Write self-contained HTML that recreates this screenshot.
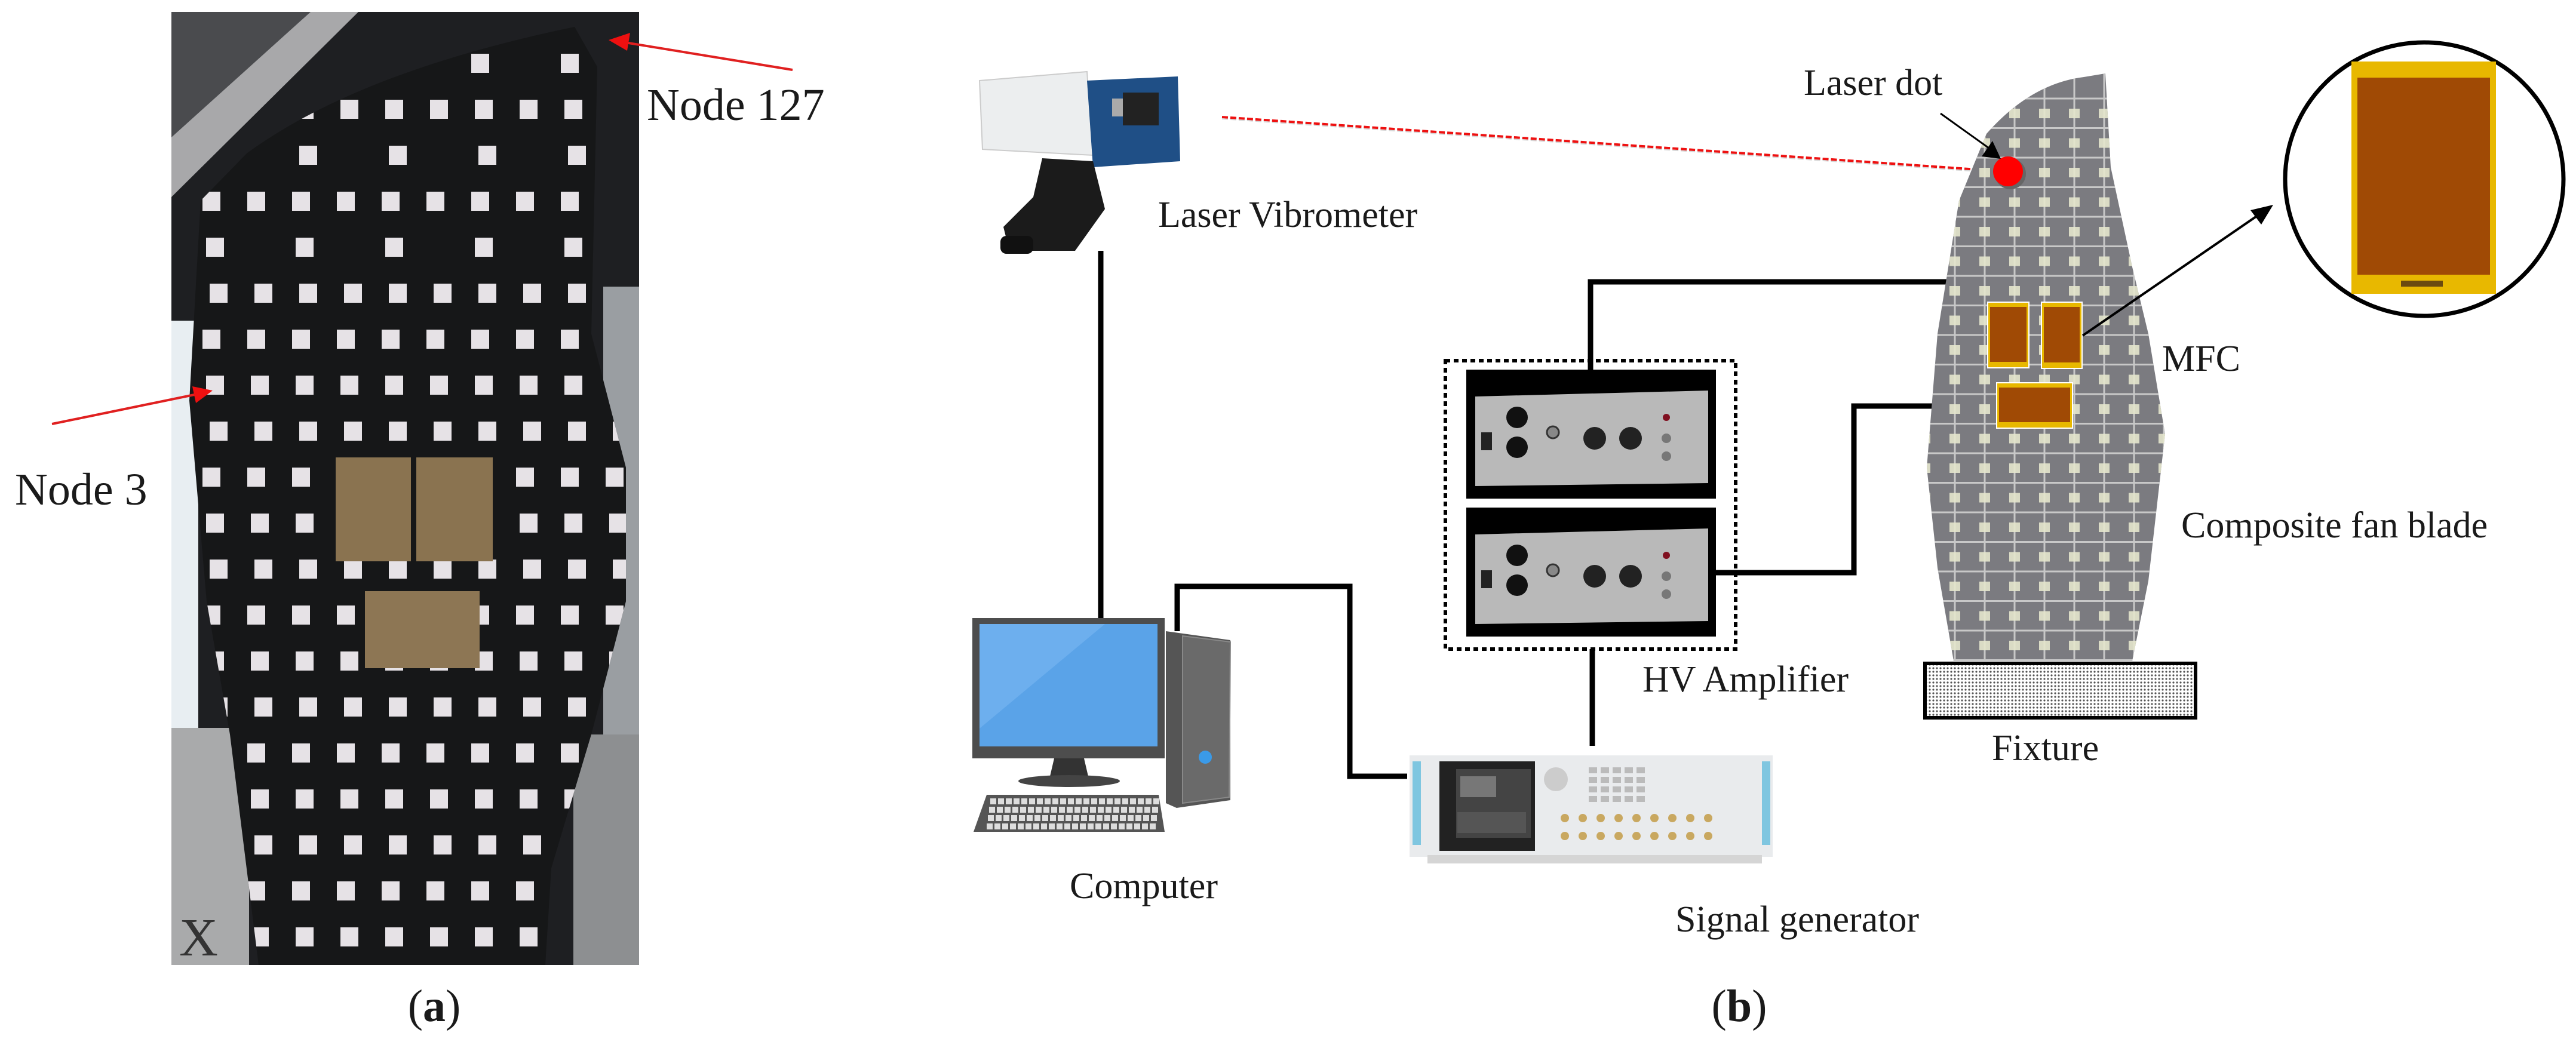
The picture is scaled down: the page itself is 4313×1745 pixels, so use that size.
<!DOCTYPE html>
<html><head><meta charset="utf-8"><style>
html,body{margin:0;padding:0;background:#fff}
svg{display:block}
text{font-family:"Liberation Serif",serif;fill:#1a1a1a}
</style></head><body>
<svg id="s" width="4313" height="1745" viewBox="0 0 4313 1745" xmlns="http://www.w3.org/2000/svg">
<defs>
<clipPath id="bladeA"><path d="M413,257 Q600,120 962,45 L1000,112 L990,559 L1048,783 L1048,1007 L990,1230 L923,1454 L913,1616 L433,1616 L385,1230 L346,1007 L317,671 L336,336 Z"/></clipPath>
<clipPath id="bladeB"><path d="M3326,224 Q3400,140 3489,129 L3525,123 L3534,280 L3570,447 L3597,559 L3625,727 L3597,973 L3570,1107 L3271,1107 L3244,951 L3226,783 L3244,559 L3280,336 Z"/></clipPath>
<pattern id="dots" width="6" height="6" patternUnits="userSpaceOnUse"><rect width="6" height="6" fill="#fff"/><circle cx="3" cy="3" r="1.6" fill="#555"/></pattern>
</defs>

<!-- Panel (a) photo -->
<rect x="287" y="20" width="783" height="1596" fill="#1e1f22"/>
<path d="M287,20 L560,20 L287,300 Z" fill="#4a4b4e"/>
<path d="M287,230 L520,20 L600,20 L287,330 Z" fill="#a8a8aa"/>
<rect x="287" y="537" width="45" height="682" fill="#e8eef2"/>
<rect x="287" y="1219" width="130" height="397" fill="#a9aaab"/>
<rect x="960" y="1230" width="110" height="386" fill="#8d8f91"/>
<rect x="1010" y="480" width="60" height="750" fill="#9a9ea2"/>
<path d="M413,257 Q600,120 962,45 L1000,112 L990,559 L1048,783 L1048,1007 L990,1230 L923,1454 L913,1616 L433,1616 L385,1230 L346,1007 L317,671 L336,336 Z" fill="#161718"/>
<g id="sqA" clip-path="url(#bladeA)"></g>
<rect x="562" y="766" width="126" height="174" fill="#8a7350"/>
<rect x="697" y="766" width="128" height="174" fill="#8a7350"/>
<rect x="611" y="990" width="192" height="129" fill="#8d7654"/>
<text x="300" y="1600" font-size="90" font-family="Liberation Sans" style="fill:#333">X</text>
<line x1="1327" y1="117" x2="1040" y2="70" stroke="#e02020" stroke-width="4"/>
<path d="M1019,67 L1055,55 L1050,85 Z" fill="#ee1010"/>
<line x1="87" y1="710" x2="335" y2="659" stroke="#e02020" stroke-width="4"/>
<path d="M356,654 L322,647 L328,675 Z" fill="#ee1010"/>
<text x="1083" y="201" font-size="76">Node 127</text>
<text x="25" y="845" font-size="76">Node 3</text>
<text x="727" y="1710" font-size="76" text-anchor="middle">(<tspan font-weight="bold">a</tspan>)</text>

<!-- Camera -->
<g>
<path d="M1640,135 L1820,120 L1830,260 L1645,250 Z" fill="#eceeef" stroke="#ccc" stroke-width="2"/>
<path d="M1820,135 L1972,128 L1976,270 L1830,280 Z" fill="#1f4f86"/>
<rect x="1880" y="155" width="60" height="55" fill="#222"/>
<rect x="1862" y="165" width="18" height="30" fill="#aaa"/>
<path d="M1745,265 L1830,270 L1850,350 L1800,420 L1690,420 L1680,380 L1730,330 Z" fill="#1b1b1b"/>
<rect x="1675" y="395" width="55" height="30" rx="10" fill="#111"/>
</g>
<text x="1939" y="380" font-size="62">Laser Vibrometer</text>
<line x1="2046" y1="196" x2="3340" y2="286" stroke="#ee1111" stroke-width="4" stroke-dasharray="10,4"/>
<line x1="2046" y1="199" x2="3340" y2="289" stroke="#bbb" stroke-width="2" stroke-dasharray="10,4" opacity=".6"/>

<!-- connectors -->
<g fill="none" stroke="#000" stroke-width="9">
<polyline points="1843,420 1843,1035"/>
<polyline points="1971,1057 1971,982 2260,982 2260,1300 2356,1300"/>
<polyline points="2663,619 2663,472 3454,472 3454,509"/>
<polyline points="2873,959 3104,959 3104,680 3344,680"/>
<polyline points="2666,1087 2666,1249"/>
</g>

<!-- Computer -->
<rect x="1628" y="1035" width="322" height="235" fill="#4d4d4d"/>
<rect x="1640" y="1045" width="298" height="205" fill="#5aa3e8"/>
<path d="M1640,1045 L1850,1045 L1640,1220 Z" fill="#7ab8f2" opacity=".6"/>
<path d="M1765,1270 L1815,1270 L1822,1300 L1758,1300 Z" fill="#333"/>
<ellipse cx="1790" cy="1308" rx="85" ry="10" fill="#444"/>
<path d="M1652,1331 L1940,1331 L1950,1393 L1630,1393 Z" fill="#555"/>
<g id="keys"></g>
<path d="M1952,1057 L2060,1072 L2060,1340 L1970,1353 L1952,1345 Z" fill="#555"/>
<path d="M1980,1065 L2060,1075 L2058,1335 L1980,1345 Z" fill="#6a6a6a" stroke="#888" stroke-width="2"/>
<circle cx="2018" cy="1268" r="11" fill="#3a9ae8"/>
<text x="1791" y="1504" font-size="62">Computer</text>

<!-- Amplifiers -->
<rect x="2420" y="604" width="486" height="483" fill="none" stroke="#000" stroke-width="6" stroke-dasharray="8,6"/>
<g id="amps"></g>
<text x="2750" y="1158" font-size="62">HV Amplifier</text>

<!-- Signal generator -->
<rect x="2360" y="1265" width="608" height="170" fill="#e9ebed"/>
<rect x="2365" y="1275" width="14" height="140" fill="#7fc6e0"/>
<rect x="2950" y="1275" width="14" height="140" fill="#7fc6e0"/>
<rect x="2410" y="1275" width="160" height="150" fill="#222"/>
<rect x="2438" y="1288" width="125" height="115" fill="#444"/>
<rect x="2445" y="1300" width="60" height="35" fill="#777"/>
<rect x="2440" y="1360" width="115" height="35" fill="#555"/>
<rect x="2390" y="1432" width="560" height="14" fill="#d5d5d5"/>
<g id="sgk"></g>
<text x="2805" y="1560" font-size="62">Signal generator</text>

<!-- Blade (b) -->
<path d="M3326,224 Q3400,140 3489,129 L3525,123 L3534,280 L3570,447 L3597,559 L3625,727 L3597,973 L3570,1107 L3271,1107 L3244,951 L3226,783 L3244,559 L3280,336 Z" fill="#7b7b80"/>
<g id="gridB" clip-path="url(#bladeB)"></g>
<rect x="3223" y="1111" width="453" height="91" fill="url(#dots)" stroke="#000" stroke-width="6"/>
<text x="3335" y="1273" font-size="62">Fixture</text>
<circle cx="3366" cy="291" r="26" fill="#666"/>
<circle cx="3362" cy="287" r="25" fill="#ff0000"/>
<line x1="3249" y1="190" x2="3330" y2="248" stroke="#000" stroke-width="3"/>
<path d="M3350,266 L3318,262 L3336,236 Z" fill="#000"/>
<text x="3020" y="159" font-size="62">Laser dot</text>
<g id="mfc"></g>
<line x1="3487" y1="562" x2="3790" y2="354" stroke="#000" stroke-width="4"/>
<path d="M3806,343 L3768,352 L3786,376 Z" fill="#000"/>
<text x="3620" y="621" font-size="62">MFC</text>
<text x="3652" y="900" font-size="62">Composite fan blade</text>
<ellipse cx="4059" cy="300" rx="233" ry="229" fill="#fff" stroke="#000" stroke-width="7"/>
<rect x="3937" y="103" width="242" height="389" fill="#e8b800"/>
<rect x="3947" y="130" width="222" height="330" fill="#a04a05"/>
<rect x="4020" y="470" width="70" height="10" fill="#6a4a10"/>
<text x="2912" y="1710" font-size="76" text-anchor="middle">(<tspan font-weight="bold">b</tspan>)</text>
</svg>
<script>
var NS="http://www.w3.org/2000/svg";
function el(p,t,a){var e=document.createElementNS(NS,t);for(var k in a)e.setAttribute(k,a[k]);p.appendChild(e);return e;}
var g=document.getElementById('sqA');
for(var r=0;r<20;r++){var y=90+r*77;for(var c=0;c<11;c++){var x=345+c*75+((r%3)-1)*6;
 if(y<500 && (c%2==1) && r%2==0) continue;
 el(g,'rect',{x:x,y:y,width:30,height:32,fill:'#e6e2e6'});}}
var k=document.getElementById('keys');
for(var r=0;r<4;r++)for(var c=0;c<22;c++)el(k,'rect',{x:1652+c*13+(3-r)*2,y:1337+r*14,width:10,height:10,fill:'#ddd'});
var a=document.getElementById('amps');
[619,850].forEach(function(y0){
 el(a,'rect',{x:2455,y:y0,width:418,height:216,fill:'#000'});
 el(a,'path',{d:'M2470,'+(y0+45)+' L2860,'+(y0+35)+' L2860,'+(y0+190)+' L2470,'+(y0+195)+' Z',fill:'#b9b9b9'});
 el(a,'rect',{x:2480,y:y0+105,width:18,height:30,fill:'#222'});
 el(a,'circle',{cx:2540,cy:y0+80,r:18,fill:'#111'});
 el(a,'circle',{cx:2540,cy:y0+130,r:18,fill:'#111'});
 el(a,'circle',{cx:2600,cy:y0+105,r:10,fill:'#888',stroke:'#333','stroke-width':3});
 el(a,'circle',{cx:2670,cy:y0+115,r:19,fill:'#222'});
 el(a,'circle',{cx:2730,cy:y0+115,r:19,fill:'#222'});
 el(a,'circle',{cx:2790,cy:y0+80,r:6,fill:'#801020'});
 el(a,'circle',{cx:2790,cy:y0+115,r:8,fill:'#777'});
 el(a,'circle',{cx:2790,cy:y0+145,r:8,fill:'#777'});
});
var s=document.getElementById('sgk');
for(var c=0;c<9;c++){el(s,'circle',{cx:2620+c*30,cy:1370,r:7,fill:'#c9a860'});el(s,'circle',{cx:2620+c*30,cy:1400,r:7,fill:'#c9a860'});}
for(var r=0;r<4;r++)for(var c=0;c<5;c++)el(s,'rect',{x:2660+c*20,y:1285+r*16,width:14,height:10,fill:'#bbb'});
el(s,'circle',{cx:2605,cy:1305,r:20,fill:'#ccc'});
var b=document.getElementById('gridB');
for(var i=0;i<20;i++){var y=165+i*49.5;el(b,'line',{x1:3200,y1:y,x2:3650,y2:y,stroke:'#c8c8c8','stroke-width':3});}
for(var c=0;c<9;c++){var x=3223+c*50;el(b,'line',{x1:x,y1:100,x2:x,y2:1110,stroke:'#c8c8c8','stroke-width':3});}
for(var i=0;i<19;i++){var y=190+i*49.5;for(var c=0;c<9;c++){var x=3223+c*50;
 el(b,'rect',{x:x-9,y:y-8,width:18,height:16,fill:'#e4e6cc',opacity:.9});}}
var m=document.getElementById('mfc');
[[3327,505,71,112],[3417,505,70,113],[3342,640,129,78]].forEach(function(p){
 el(m,'rect',{x:p[0],y:p[1],width:p[2],height:p[3],fill:'#fff'});
 el(m,'rect',{x:p[0]+2,y:p[1]+2,width:p[2]-4,height:p[3]-4,fill:'#e8b800'});
 el(m,'rect',{x:p[0]+5,y:p[1]+9,width:p[2]-10,height:p[3]-20,fill:'#a04a05'});
});
</script>
</body></html>
